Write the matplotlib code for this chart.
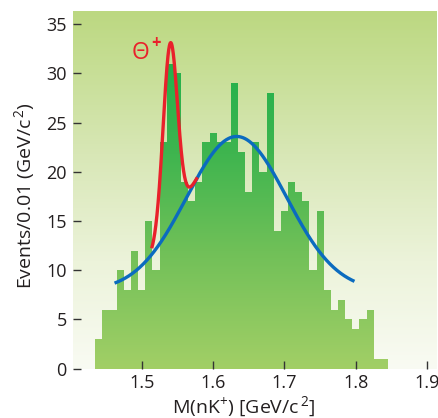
import numpy as np
import matplotlib
matplotlib.use("Agg")
import matplotlib.pyplot as plt
from matplotlib.colors import LinearSegmentedColormap

plt.rcParams['font.family'] = ['Open Sans', 'DejaVu Sans']
plt.rcParams['mathtext.fontset'] = 'custom'
plt.rcParams['mathtext.rm'] = 'Open Sans'
plt.rcParams['mathtext.it'] = 'Open Sans:italic'

# histogram: events per 0.01 GeV/c^2, first bin starts at 1.435
bin_start = 1.435
bin_width = 0.01
counts = [3, 6, 6, 10, 8, 12, 8, 15, 10, 23,
          31, 30, 19, 17, 19, 23, 24, 23, 23, 29,
          22, 18, 23, 20, 28, 14, 16, 19, 18, 17,
          10, 16, 8, 6, 7, 5, 4, 5, 6, 1, 1]

# background fit (gaussian on a flat floor) and the Theta+ peak on top of it
bg_mean, bg_sigma, bg_amp, bg_floor = 1.633, 0.070, 15.7, 7.9
bg_range = (1.462, 1.798)
peak_mean, peak_sigma, peak_amp = 1.540, 0.0100, 18.7
peak_range = (1.514, 1.578)

x_ticks = [1.5, 1.6, 1.7, 1.8, 1.9]
y_ticks = [0, 5, 10, 15, 20, 25, 30, 35]
xlim = (1.4038, 1.9136)
ylim = (0, 36.35)


def background(m):
    return bg_floor + bg_amp * np.exp(-(m - bg_mean) ** 2 / (2 * bg_sigma ** 2))


def signal(m):
    return background(m) + peak_amp * np.exp(-(m - peak_mean) ** 2 / (2 * peak_sigma ** 2))


W, H = 439, 418
fig = plt.figure(figsize=(W / 100, H / 100), dpi=100)
ax = fig.add_axes([73 / W, 1 - 368.7 / H, 364 / W, (368.7 - 11) / H])
ax.set_xlim(*xlim)
ax.set_ylim(*ylim)

# panel background: green at the top fading to white at the bottom
bg_cmap = LinearSegmentedColormap.from_list(
    'panel', [(0.0, '#f9fbf3'), (0.3, '#ecf3da'), (0.6, '#d8e7b6'),
              (0.85, '#c6de94'), (1.0, '#bcd881')])
grad = np.linspace(0, 1, 256).reshape(-1, 1)
ax.imshow(grad, extent=[xlim[0], xlim[1], ylim[0], ylim[1]], origin='lower',
          aspect='auto', cmap=bg_cmap, zorder=0, interpolation='bicubic')

# histogram filled with a vertical green gradient
edges = bin_start + bin_width * np.arange(len(counts) + 1)
steps = ax.stairs(counts, edges, fill=True, facecolor='none', edgecolor='none', zorder=1)
bar_cmap = LinearSegmentedColormap.from_list(
    'bars', [(0.0, '#a2cf66'), (0.33, '#70c058'), (0.6, '#3fb54f'),
             (0.85, '#23b14c'), (1.0, '#1fb04b')])
img = ax.imshow(grad, extent=[xlim[0], xlim[1], ylim[0], ylim[1]], origin='lower',
                aspect='auto', cmap=bar_cmap, zorder=1, interpolation='bicubic')
img.set_clip_path(steps)

# fits
m_bg = np.linspace(bg_range[0], bg_range[1], 400)
ax.plot(m_bg, background(m_bg), color='#0b6bbf', lw=2.4, zorder=3, solid_capstyle='butt')
m_sig = np.linspace(peak_range[0], peak_range[1], 400)
ax.plot(m_sig, signal(m_sig), color='#e9212b', lw=2.4, zorder=3, solid_capstyle='butt')

# Theta+ label, the plus drawn a bit larger than a mathtext superscript
ax.text(1.499, 32.1, 'Θ', color='#e9212b', fontsize=16.5, ha='center', va='center')
ax.text(1.5195, 33.1, '+', color='#e9212b', fontsize=12, fontweight='bold',
        ha='center', va='center')

for s in ax.spines.values():
    s.set_visible(False)
ax.set_xticks(x_ticks)
ax.set_xticklabels([f'{t:.1f}' for t in x_ticks])
ax.set_yticks(y_ticks)
ax.tick_params(direction='in', length=5.5, width=1.0, color='#333333',
               labelsize=13, labelcolor='#231f20', pad=4.5)
ax.tick_params(axis='x', pad=4)

fig.text(244 / W, 1 - 407 / H, r'M(nK$^{+}$) [GeV/c$^{\,2}$]', ha='center', va='center',
         fontsize=14, color='#231f20')
fig.text(25 / W, 1 - 196 / H, r'Events/0.01 (GeV/c$^{\,2}$)', ha='center', va='center',
         rotation=90, fontsize=14, color='#231f20')

fig.savefig('out.png', dpi=100)
